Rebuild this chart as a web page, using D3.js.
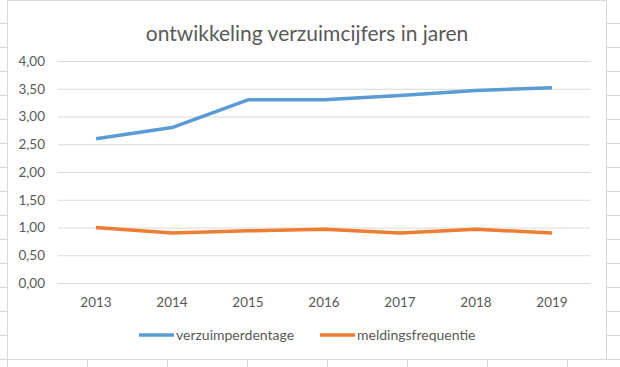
<!DOCTYPE html>
<html>
<head>
<meta charset="utf-8">
<script src="https://cdn.jsdelivr.net/npm/d3@7"></script>
<style>
  body { margin: 0; background: #fff; }
  svg { display: block; }
</style>
</head>
<body>
<svg width="620" height="367"></svg>
<script>
const width = 620;
const height = 367;

// data
var years = ["2013", "2014", "2015", "2016", "2017", "2018", "2019"];
var verzuimperdentage = [2.60, 2.80, 3.30, 3.30, 3.38, 3.47, 3.52];
var meldingsfrequentie = [1.00, 0.90, 0.94, 0.97, 0.90, 0.97, 0.90];
var yTicks = [0, 0.5, 1, 1.5, 2, 2.5, 3, 3.5, 4];
var seriesNames = ["verzuimperdentage", "meldingsfrequentie"];
var seriesColors = ["#5b9bd5", "#ed7d31"];

var svg = d3.select("svg");
var font = "Lato, 'Open Sans', sans-serif";

// spreadsheet grid behind the chart
var sheet = svg.append("g").attr("stroke", "#d6d6d6").attr("stroke-width", 1);
d3.range(23.5, height, 24).forEach(function (y) {
    sheet.append("line").attr("x1", 0).attr("x2", 7).attr("y1", y).attr("y2", y);
    sheet.append("line").attr("x1", 607).attr("x2", width).attr("y1", y).attr("y2", y);
});
d3.range(7.5, width, 80).forEach(function (x) {
    sheet.append("line").attr("x1", x).attr("x2", x).attr("y1", 360).attr("y2", height);
});

// chart area
svg.append("rect")
    .attr("x", 7.5).attr("y", 0.5)
    .attr("width", 599).attr("height", 359)
    .attr("fill", "#fff")
    .attr("stroke", "#d9d9d9");

svg.append("text")
    .attr("x", 307).attr("y", 41)
    .attr("text-anchor", "middle")
    .attr("font-family", font)
    .attr("font-size", 21)
    .attr("fill", "#595959")
    .text("ontwikkeling verzuimcijfers in jaren");

var x = d3.scaleBand().domain(years).range([58, 590]).padding(0);
var y = d3.scaleLinear().domain([0, 4]).range([283, 61]);

var nl = d3.formatLocale({ decimal: ",", thousands: ".", grouping: [3], currency: ["€", ""] });
var fmt = nl.format(".2f");

var yAxis = svg.append("g")
    .attr("transform", "translate(58,0)")
    .call(d3.axisLeft(y).tickValues(yTicks).tickFormat(fmt).tickSize(-532).tickPadding(13));
yAxis.select(".domain").remove();
yAxis.selectAll(".tick line").attr("stroke", "#d9d9d9");
yAxis.selectAll(".tick text")
    .attr("font-family", font).attr("font-size", 13.5).attr("fill", "#595959");

var xAxis = svg.append("g")
    .attr("transform", "translate(0,283)")
    .call(d3.axisBottom(x).tickSize(0).tickPadding(14));
xAxis.select(".domain").remove();
xAxis.selectAll(".tick text")
    .attr("font-family", font).attr("font-size", 13.5).attr("fill", "#595959");

var line = d3.line()
    .x(function (d, i) { return x(years[i]) + x.bandwidth() / 2; })
    .y(function (d) { return y(d); });

[verzuimperdentage, meldingsfrequentie].forEach(function (vals, k) {
    svg.append("path")
        .datum(vals)
        .attr("d", line)
        .attr("fill", "none")
        .attr("stroke", seriesColors[k])
        .attr("stroke-width", 3.5)
        .attr("stroke-linejoin", "round");
});

// legend
var legendX = [139, 320];
seriesNames.forEach(function (name, k) {
    var g = svg.append("g").attr("transform", "translate(" + legendX[k] + ",335)");
    g.append("line")
        .attr("x1", 0).attr("x2", 35)
        .attr("stroke", seriesColors[k]).attr("stroke-width", 3.5);
    g.append("text")
        .attr("x", 37).attr("y", 4.5)
        .attr("font-family", font).attr("font-size", 14).attr("fill", "#595959")
        .text(name);
});
</script>
</body>
</html>
